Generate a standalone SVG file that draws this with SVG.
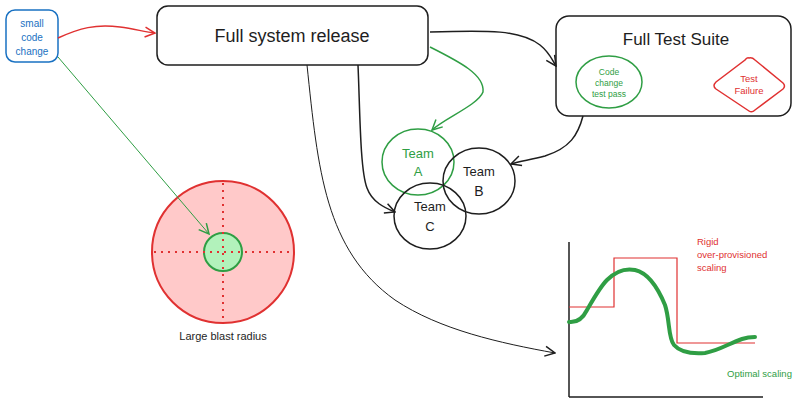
<svg xmlns="http://www.w3.org/2000/svg" width="800" height="405" viewBox="0 0 800 405">
<defs>
<style>
text{font-family:"Liberation Sans","DejaVu Sans",sans-serif;text-anchor:middle;}
.blk{fill:none;stroke:#1e1e1e;stroke-width:1.5;}
.grn{fill:none;stroke:#2f9e44;stroke-width:1.5;}
.red{fill:none;stroke:#e03131;stroke-width:1.5;}
.t-dark{fill:#1e1e1e;}
.t-green{fill:#2f9e44;}
.t-red{fill:#e03131;}
.t-blue{fill:#1971c2;}
</style>
<marker id="ab" viewBox="0 0 12 12" refX="11" refY="6" markerWidth="12" markerHeight="12" markerUnits="userSpaceOnUse" orient="auto"><path d="M1,1 L11,6 L1,11" fill="none" stroke="#1e1e1e" stroke-width="1.5"/></marker>
<marker id="ag" viewBox="0 0 12 12" refX="11" refY="6" markerWidth="12" markerHeight="12" markerUnits="userSpaceOnUse" orient="auto"><path d="M1,1 L11,6 L1,11" fill="none" stroke="#2f9e44" stroke-width="1.5"/></marker>
<marker id="ar" viewBox="0 0 12 12" refX="11" refY="6" markerWidth="12" markerHeight="12" markerUnits="userSpaceOnUse" orient="auto"><path d="M1,1 L11,6 L1,11" fill="none" stroke="#e03131" stroke-width="1.5"/></marker>
</defs>
<rect width="800" height="405" fill="#ffffff"/>

<g id="small-code-change">
<rect x="6" y="10" width="52" height="52" rx="9" fill="none" stroke="#1971c2" stroke-width="1.5"/>
<text class="t-blue" x="32" y="27" font-size="10">small</text>
<text class="t-blue" x="32" y="41" font-size="10">code</text>
<text class="t-blue" x="32" y="55" font-size="10">change</text>
</g>

<g id="full-system-release">
<rect x="157" y="6" width="271" height="59" rx="11" fill="#ffffff" stroke="#1e1e1e" stroke-width="1.5"/>
<text class="t-dark" x="292" y="42" font-size="18">Full system release</text>
</g>

<g id="full-test-suite">
<rect x="556" y="16" width="235" height="100" rx="13" fill="#ffffff" stroke="#1e1e1e" stroke-width="1.5"/>
<text class="t-dark" x="676" y="45" font-size="17">Full Test Suite</text>
</g>

<g id="code-change-test-pass">
<ellipse cx="609" cy="82" rx="33" ry="26" class="grn"/>
<text class="t-green" x="609" y="75" font-size="8.5">Code</text>
<text class="t-green" x="609" y="86" font-size="8.5">change</text>
<text class="t-green" x="609" y="97" font-size="8.5">test pass</text>
</g>

<g id="test-failure">
<path d="M749,58 Q752,57 755,60 L783,83 Q786,86 783,89 L755,110 Q752,113 749,111 L716,89 Q712,86 716,82 L745,60 Q747,57 749,58 Z" class="red"/>
<text class="t-red" x="749" y="82" font-size="9.5">Test</text>
<text class="t-red" x="749" y="94" font-size="9.5">Failure</text>
</g>

<g id="team-a">
<ellipse cx="418" cy="162" rx="36" ry="33" class="grn"/>
<text class="t-green" x="418" y="158" font-size="13">Team</text>
<text class="t-green" x="418" y="176" font-size="13">A</text>
</g>

<g id="team-b">
<ellipse cx="479" cy="181" rx="36" ry="33" class="blk"/>
<text class="t-dark" x="479" y="176" font-size="13">Team</text>
<text class="t-dark" x="479" y="196" font-size="14">B</text>
</g>

<g id="team-c">
<ellipse cx="430" cy="216" rx="36" ry="33" class="blk"/>
<text class="t-dark" x="430" y="211" font-size="13">Team</text>
<text class="t-dark" x="430" y="231" font-size="13">C</text>
</g>

<g id="blast-radius">
<circle cx="223" cy="252" r="71" fill="#ffc9c9" stroke="#e03131" stroke-width="2"/>
<circle cx="223" cy="252" r="19" fill="#b2f2bb" stroke="#2f9e44" stroke-width="2"/>
<line x1="154" y1="252" x2="292" y2="252" stroke="#e03131" stroke-width="2" stroke-dasharray="2,5"/>
<line x1="223" y1="183" x2="223" y2="322" stroke="#e03131" stroke-width="2" stroke-dasharray="2,5"/>
<text class="t-dark" x="223" y="340" font-size="11">Large blast radius</text>
</g>

<g id="scaling-chart">
<line x1="569" y1="242" x2="569" y2="397" stroke="#1e1e1e" stroke-width="1.5"/>
<line x1="569" y1="397" x2="763" y2="397" stroke="#1e1e1e" stroke-width="1.5"/>
<path d="M569,307 L614,307 L614,258 L677,258 L677,343 L755,343" fill="none" stroke="#e03131" stroke-width="1.2"/>
<path d="M569,322 C578,323 583,318 587,310 C594,298 600,287 607,280 C615,272 625,268 635,270 C648,273 658,288 665,305 C670,320 668,338 674,345 C680,352 692,354 705,353 C718,351 730,343 742,339 C748,337 752,337 755,337" fill="none" stroke="#2f9e44" stroke-width="4" stroke-linecap="round"/>
<text class="t-red" x="697" y="245" font-size="9.5" style="text-anchor:start">Rigid</text>
<text class="t-red" x="697" y="258" font-size="9.5" style="text-anchor:start">over-provisioned</text>
<text class="t-red" x="697" y="271" font-size="9.5" style="text-anchor:start">scaling</text>
<text class="t-green" x="727" y="377" font-size="9.5" style="text-anchor:start">Optimal scaling</text>
</g>

<g id="connectors">
<path class="red" d="M58,38 C80,28 95,24 120,27 C135,29 145,32 155,33" marker-end="url(#ar)"/>
<path class="grn" d="M58,57 L209,234" marker-end="url(#ag)" style="stroke-width:1"/>
<path class="blk" d="M430,32 C490,30 520,30 540,45 C550,53 552,60 556,66" marker-end="url(#ab)"/>
<path class="grn" d="M430,47 C460,62 485,75 483,92 C478,105 445,118 432,130" marker-end="url(#ag)"/>
<path class="blk" d="M358,65 C360,110 360,170 367,188 C372,202 385,208 395,212" marker-end="url(#ab)"/>
<path class="blk" d="M583,116 C578,135 570,148 545,156 C530,160 520,161 511,164" marker-end="url(#ab)"/>
<path class="blk" style="stroke-width:1" d="M307,65 C318,170 325,250 395,300 C440,330 500,343 555,353" marker-end="url(#ab)"/>
</g>
</svg>
